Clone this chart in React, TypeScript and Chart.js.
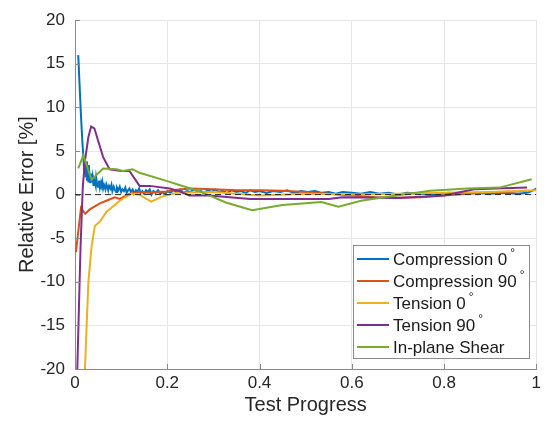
import React, { useEffect, useRef } from "react";
import { Chart, registerables } from "chart.js";

Chart.register(...registerables);

const FONT = "'Liberation Sans', Arial, Helvetica, sans-serif";

const xTicks = [0, 0.2, 0.4, 0.6, 0.8, 1];
const yTicks = [-20, -15, -10, -5, 0, 5, 10, 15, 20];

const seriesNames = ["Compression 0°", "Compression 90°", "Tension 0°", "Tension 90°", "In-plane Shear"];
const seriesColors = ["#0072BD", "#D95319", "#EDB120", "#7E2F8E", "#77AC30"];

const compression0: [number, number][] = [
  [0.007, 16], [0.01, 12.5], [0.013, 9], [0.016, 6], [0.018, 4.5], [0.02, 2.5], [0.021, 4.1],
  [0.023, 2.0], [0.024, 3.8], [0.026, 1.6], [0.027, 2.9], [0.029, 1.5], [0.03, 3.4], [0.032, 1.9],
  [0.033, 1.3], [0.035, 2.4], [0.036, 1.4], [0.038, 2.1], [0.04, 1.1], [0.041, 1.8], [0.043, 1.5],
  [0.045, 1.0], [0.046, 1.9], [0.048, 1.2], [0.05, 0.9], [0.052, 1.6], [0.054, 0.8], [0.056, 1.3],
  [0.057, 1.0], [0.059, 1.5], [0.061, 0.7], [0.063, 1.1], [0.066, 0.6], [0.068, 1.2], [0.07, 0.9],
  [0.072, 0.5], [0.074, 1.0], [0.077, 0.7], [0.079, 1.1], [0.081, 0.4], [0.084, 0.9], [0.086, 0.6],
  [0.089, 0.3], [0.091, 0.8], [0.094, 0.5], [0.097, 0.9], [0.1, 0.3], [0.103, 0.6], [0.106, 0.4],
  [0.109, 0.8], [0.112, 0.2], [0.115, 0.5], [0.118, 0.7], [0.121, 0.3], [0.125, 0.6], [0.128, 0.1],
  [0.132, 0.5], [0.135, 0.3], [0.139, 0.7], [0.142, 0.2], [0.146, 0.4], [0.15, 0.1], [0.154, 0.5],
  [0.158, 0.3], [0.162, 0.6], [0.166, 0.0], [0.17, 0.4], [0.175, 0.2], [0.18, 0.5], [0.185, 0.1],
  [0.19, 0.3], [0.195, 0.0], [0.2, 0.4], [0.207, 0.2], [0.213, 0.5], [0.22, 0.3], [0.228, 0.6],
  [0.235, 0.2], [0.243, 0.4], [0.25, 0.3], [0.258, 0.6], [0.266, 0.3], [0.273, 0.4], [0.28, 0.2],
  [0.288, 0.5], [0.296, 0.3], [0.304, 0.6], [0.312, 0.3], [0.32, 0.4], [0.33, 0.2], [0.34, 0.5],
  [0.35, 0.3], [0.36, 0.4], [0.37, 0.2], [0.38, 0.5], [0.39, 0.3], [0.4, 0.4], [0.415, 0.2],
  [0.43, 0.4], [0.445, 0.3], [0.46, 0.5], [0.475, 0.2], [0.49, 0.4], [0.505, 0.3], [0.52, 0.4],
  [0.535, 0.2], [0.55, 0.3], [0.565, 0.1], [0.58, 0.3], [0.6, 0.2], [0.62, 0.1], [0.64, 0.3],
  [0.66, 0.1], [0.68, 0.2], [0.7, 0.0], [0.72, 0.2], [0.75, 0.1], [0.78, 0.0], [0.81, 0.2],
  [0.84, 0.1], [0.87, 0.2], [0.9, 0.1], [0.93, 0.2], [0.96, 0.1], [0.98, 0.2], [0.99, 0.4],
  [1.0, 0.7],
];

const compression90: [number, number][] = [
  [0.002, -6.6], [0.013, -1.5], [0.022, -2.2], [0.032, -1.7], [0.054, -1.0], [0.068, -0.7],
  [0.086, -0.3], [0.097, -0.5], [0.119, 0.1], [0.14, 0.3], [0.16, 0.2], [0.18, 0.3], [0.2, 0.35],
  [0.22, 0.55], [0.25, 0.7], [0.3, 0.6], [0.35, 0.5], [0.4, 0.5], [0.45, 0.45], [0.5, 0.3],
  [0.55, 0.1], [0.6, -0.1], [0.65, -0.3], [0.7, -0.35], [0.75, -0.3], [0.8, -0.1], [0.85, 0.1],
  [0.9, 0.25], [0.95, 0.35], [0.98, 0.45],
];

const tension0: [number, number][] = [
  [0.0216, -20], [0.029, -10], [0.036, -5.9], [0.043, -3.6], [0.054, -3.1], [0.068, -2.0],
  [0.097, -0.7], [0.122, 0.1], [0.14, 0.0], [0.165, -0.8], [0.19, -0.2], [0.22, 0.2], [0.3, 0.3],
  [0.4, -0.1], [0.5, 0.1], [0.6, 0.0], [0.7, 0.1], [0.8, 0.2], [0.9, 0.3], [1.0, 0.5],
];

const tension90: [number, number][] = [
  [0.005, -20], [0.012, -6], [0.017, 1], [0.022, 4], [0.029, 6.6], [0.035, 7.8], [0.042, 7.6],
  [0.05, 6.2], [0.061, 4.3], [0.075, 2.9], [0.1, 2.7], [0.118, 2.7], [0.14, 1.0], [0.162, 1.0],
  [0.205, 0.7], [0.226, 0.4], [0.248, -0.1], [0.29, -0.1], [0.38, -0.5], [0.55, -0.5],
  [0.58, -0.3], [0.7, -0.4], [0.8, -0.1], [0.865, 0.6], [0.98, 0.8],
];

const inPlaneShear: [number, number][] = [
  [0.007, 3.0], [0.018, 4.5], [0.036, 1.7], [0.061, 3.0], [0.09, 2.9], [0.104, 2.7], [0.125, 2.9],
  [0.14, 2.5], [0.2, 1.55], [0.226, 1.1], [0.269, 0.4], [0.327, -0.9], [0.384, -1.8], [0.45, -1.2],
  [0.534, -0.85], [0.571, -1.4], [0.62, -0.7], [0.67, -0.3], [0.77, 0.45], [0.85, 0.7],
  [0.92, 0.8], [0.99, 1.75],
];

const zeroLine: [number, number][] = [[0, 0], [1, 0]];

const allSeries = [compression0, compression90, tension0, tension90, inPlaneShear];

const tickPlugin = {
  id: "inwardTicks",
  afterDraw(chart: any) {
    const { ctx, chartArea } = chart;
    const xs = chart.scales.x;
    const ys = chart.scales.y;
    ctx.save();
    ctx.strokeStyle = "#8a8a8a";
    ctx.lineWidth = 1;
    ctx.beginPath();
    xTicks.forEach((v) => {
      const px = Math.round(xs.getPixelForValue(v)) + 0.5;
      ctx.moveTo(px, chartArea.bottom);
      ctx.lineTo(px, chartArea.bottom - 5);
    });
    yTicks.forEach((v) => {
      const py = Math.round(ys.getPixelForValue(v)) + 0.5;
      ctx.moveTo(chartArea.left, py);
      ctx.lineTo(chartArea.left + 5, py);
    });
    ctx.stroke();

    // legend
    const bx = 353, by = 245, bw = 176, bh = 113;
    ctx.fillStyle = "#ffffff";
    ctx.fillRect(bx, by, bw, bh);
    ctx.strokeStyle = "#8a8a8a";
    ctx.strokeRect(bx + 0.5, by + 0.5, bw, bh);
    const rowY = [259, 281, 303, 325, 347];
    seriesNames.forEach((name, i) => {
      const y = rowY[i];
      ctx.strokeStyle = seriesColors[i];
      ctx.lineWidth = 2;
      ctx.beginPath();
      ctx.moveTo(357, y);
      ctx.lineTo(389, y);
      ctx.stroke();
      let main = name;
      let sup = "";
      if (name.endsWith("°")) {
        main = name.slice(0, -1);
        sup = "°";
      }
      ctx.fillStyle = "#1a1a1a";
      ctx.font = `17px ${FONT}`;
      ctx.textBaseline = "middle";
      ctx.textAlign = "left";
      ctx.fillText(main, 393, y + 1);
      if (sup) {
        const w = ctx.measureText(main).width;
        ctx.font = `12px ${FONT}`;
        ctx.fillText(sup, 393 + w + 3, y - 5);
      }
    });
    ctx.restore();
  },
};

export default function App() {
  const ref = useRef<HTMLCanvasElement | null>(null);
  useEffect(() => {
    document.body.style.margin = "0";
    const datasets: any[] = allSeries.map((s, i) => ({
      label: seriesNames[i],
      data: s.map(([x, y]) => ({ x, y })),
      borderColor: seriesColors[i],
      backgroundColor: seriesColors[i],
      borderWidth: 2,
      pointRadius: 0,
      tension: 0,
      order: 10 - i,
    }));
    datasets.push({
      label: "zero",
      data: zeroLine.map(([x, y]) => ({ x, y })),
      borderColor: "#262626",
      borderWidth: 1,
      borderDash: [6, 4],
      pointRadius: 0,
      order: 0,
    });
    const chart = new Chart(ref.current!, {
      type: "line",
      data: { datasets },
      options: {
        animation: false,
        responsive: false,
        maintainAspectRatio: false,
        layout: { padding: { top: 9, right: 6, left: 0, bottom: 0 } },
        plugins: { legend: { display: false }, tooltip: { enabled: false } },
        scales: {
          x: {
            type: "linear",
            min: 0,
            max: 1,
            afterBuildTicks: (s: any) => {
              s.ticks = xTicks.map((v) => ({ value: v }));
            },
            afterFit: (s: any) => {
              s.height = 61;
            },
            grid: { color: "#e6e6e6", drawTicks: false },
            border: { color: "#8a8a8a" },
            ticks: {
              padding: 4,
              color: "#262626",
              font: { family: FONT, size: 17 },
              maxRotation: 0,
              callback: (v: any) => String(Math.round(Number(v) * 10) / 10),
            },
            title: {
              display: true,
              text: "Test Progress",
              color: "#262626",
              font: { family: FONT, size: 20 },
              padding: { top: 0, bottom: 13 },
            },
          },
          y: {
            type: "linear",
            min: -20,
            max: 20,
            afterBuildTicks: (s: any) => {
              s.ticks = yTicks.map((v) => ({ value: v }));
            },
            afterFit: (s: any) => {
              s.width = 75;
            },
            grid: { color: "#e6e6e6", drawTicks: false },
            border: { color: "#8a8a8a" },
            ticks: {
              padding: 10,
              color: "#262626",
              font: { family: FONT, size: 17 },
              callback: (v: any) => String(v),
            },
            title: {
              display: true,
              text: "Relative Error [%]",
              color: "#262626",
              font: { family: FONT, size: 20 },
              padding: { top: 15, bottom: 0 },
            },
          },
        },
      },
      plugins: [tickPlugin],
    });
    return () => chart.destroy();
  }, []);
  return (
    <div style={{ position: "absolute", left: 0, top: 0, width: 545, height: 430 }}>
      <canvas ref={ref} width={545} height={430} style={{ width: 545, height: 430 }} />
    </div>
  );
}
